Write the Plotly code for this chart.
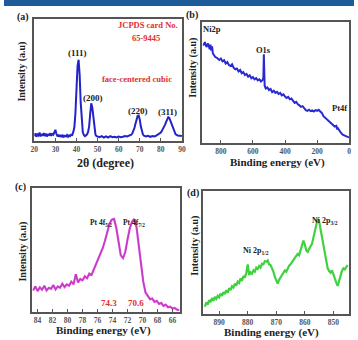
import plotly.graph_objects as go

# ---------------- data ----------------
# (a) XRD
tth = [20, 20.5, 21, 21.5, 22, 22.5, 23, 23.5, 24, 24.5, 25, 25.5, 26, 26.5, 27, 27.5, 28, 28.5, 29, 29.5,
       30, 30.5, 31, 31.5, 32, 32.5, 33, 33.5, 34, 34.5, 35, 35.5, 36, 36.5, 37, 37.5, 38, 38.5, 39, 39.5,
       40, 40.5, 41, 41.5, 42, 42.5, 43, 43.5, 44, 44.5, 45, 45.5, 46, 46.5, 47, 47.5, 48, 48.5, 49, 49.5,
       50, 51, 52, 53, 54, 55, 56, 57, 58, 59, 60, 61, 62, 63, 64, 65, 66, 66.5, 67, 67.5,
       68, 68.5, 69, 69.5, 70, 70.5, 71, 71.5, 72, 73, 74, 75, 76, 77, 78, 79, 80, 80.5, 81, 81.5,
       82, 82.5, 83, 83.5, 84, 84.5, 85, 85.5, 86, 86.5, 87, 88, 89, 90]
xrd = [14, 22, 12, 19, 16, 24, 13, 20, 15, 23, 14, 21, 13, 18, 17, 22, 15, 20, 18, 26,
       32, 20, 13, 18, 12, 17, 11, 16, 12, 15, 13, 17, 12, 16, 14, 18, 17, 26, 40, 80,
       150, 215, 233, 190, 110, 50, 25, 17, 14, 16, 19, 26, 42, 78, 108, 96, 62, 32, 18, 14,
       13, 11, 14, 10, 13, 10, 14, 11, 12, 10, 13, 11, 12, 14, 13, 15, 18, 22, 28, 38,
       50, 62, 72, 73, 62, 42, 27, 19, 15, 13, 15, 12, 14, 13, 16, 19, 24, 29, 34, 40,
       47, 55, 62, 68, 66, 58, 48, 38, 30, 24, 19, 16, 15, 14]
xrd_ticks = [20, 30, 40, 50, 60, 70, 80, 90]

# (b) XPS survey
be_survey = [910, 900, 890, 880, 870, 865, 860, 855, 850, 845, 835, 825, 810, 800, 790, 780, 770, 760,
             750, 740, 730, 720, 710, 700, 690, 680, 670, 660, 650, 640, 630, 620, 610, 600, 590, 580,
             570, 560, 550, 540, 535, 532, 530, 527, 520, 510, 500, 490, 480, 470, 460, 450, 440, 430,
             420, 410, 400, 390, 380, 370, 360, 350, 340, 330, 320, 310, 300, 290, 280, 270, 260, 250,
             240, 230, 220, 210, 200, 190, 180, 170, 160, 150, 140, 130, 120, 110, 100, 90, 80, 75,
             70, 60, 50, 40, 30, 20, 10, 0]
survey = [272, 282, 268, 278, 262, 275, 258, 270, 250, 246, 240, 238, 232, 236, 228, 231, 222, 226,
          218, 215, 220, 210, 206, 208, 200, 204, 195, 198, 190, 193, 185, 189, 181, 184, 178, 181,
          175, 178, 172, 176, 182, 248, 176, 160, 152, 155, 148, 151, 142, 146, 140, 143, 137, 140,
          133, 136, 130, 126, 129, 122, 124, 118, 112, 115, 108, 105, 101, 103, 96, 92, 90, 93,
          89, 91, 88, 92, 90, 93, 88, 84, 75, 71, 66, 62, 58, 55, 50, 46, 48, 38,
          41, 33, 28, 23, 20, 19, 17, 16]
survey_ticks = [800, 600, 400, 200, 0]

# (c) Pt 4f
be_pt = [84.6, 84.3, 84.0, 83.7, 83.4, 83.1, 82.8, 82.5, 82.2, 81.9, 81.6, 81.3, 81.0, 80.7, 80.4, 80.1,
         79.8, 79.5, 79.2, 78.9, 78.6, 78.3, 78.0, 77.7, 77.4, 77.1, 76.8, 76.5, 76.2, 75.9, 75.6, 75.3,
         75.0, 74.7, 74.4, 74.1, 73.8, 73.5, 73.2, 72.9, 72.6, 72.3, 72.0, 71.7, 71.4, 71.1, 70.8, 70.5,
         70.2, 69.9, 69.6, 69.3, 69.0, 68.7, 68.4, 68.1, 67.8, 67.5, 67.2, 66.9, 66.6, 66.3, 66.0, 65.7,
         65.4, 65.1]
pt = [64, 76, 62, 73, 66, 78, 64, 72, 69, 80, 67, 76, 72, 84, 74, 82,
      78, 90, 82, 112, 88, 98, 94, 106, 100, 114, 110, 126, 138, 156, 172, 190,
      212, 238, 262, 274, 276, 250, 205, 168, 160, 178, 215, 248, 268, 276, 252, 195,
      135, 90, 58, 46, 38, 40, 30, 33, 24, 27, 18, 22, 14, 16, 10, 12,
      7, 6]
pt_ticks = [84, 82, 80, 78, 76, 74, 72, 70, 68, 66]

# (d) Ni 2p
be_ni = [895.0, 894.5, 894.0, 893.5, 893.0, 892.5, 892.0, 891.5, 891.0, 890.5, 890.0, 889.5, 889.0,
         888.5, 888.0, 887.5, 887.0, 886.5, 886.0, 885.5, 885.0, 884.5, 884.0, 883.5, 883.0, 882.5,
         882.0, 881.5, 881.0, 880.5, 880.0, 879.5, 879.0, 878.5, 878.0, 877.5, 877.0, 876.5, 876.0,
         875.5, 875.0, 874.5, 874.0, 873.5, 873.0, 872.5, 872.0, 871.5, 871.0, 870.5, 870.0, 869.5,
         869.0, 868.5, 868.0, 867.5, 867.0, 866.5, 866.0, 865.5, 865.0, 864.5, 864.0, 863.5, 863.0,
         862.5, 862.0, 861.5, 861.0, 860.5, 860.0, 859.5, 859.0, 858.5, 858.0, 857.5, 857.0, 856.5,
         856.0, 855.5, 855.0, 854.5, 854.0, 853.5, 853.0, 852.5, 852.0, 851.5, 851.0, 850.5, 850.0,
         849.5, 849.0, 848.5, 848.0, 847.5, 847.0, 846.5, 846.0, 845.5, 845.0]
ni = [22, 35, 28, 42, 36, 48, 40, 52, 46, 55, 50, 62, 55,
      66, 60, 72, 64, 78, 72, 84, 80, 92, 86, 98, 94, 108,
      100, 115, 110, 124, 150, 118, 126, 122, 132, 128, 140, 136, 145,
      140, 152, 150, 160, 158, 162, 150, 148, 140, 128, 112, 100, 92,
      104, 112, 118, 125, 132, 128, 140, 146, 150, 158, 164, 170, 176,
      182, 178, 195, 205, 222, 210, 192, 188, 198, 205, 212, 230, 250,
      272, 288, 280, 255, 228, 205, 175, 150, 138, 130, 125, 132, 118,
      110, 95, 85, 100, 118, 130, 138, 135, 142, 148]
ni_ticks = [890, 880, 870, 860, 850]

# ---------------- figure ----------------
W, H = 358, 340
def px(x):
    return x / W
def py(y):
    return 1 - y / H

FONT = "Liberation Serif"
fig = go.Figure()

fig.add_trace(go.Scatter(x=tth, y=xrd, mode="lines", line=dict(color="#2323c8", width=2),
                         xaxis="x", yaxis="y", showlegend=False))
fig.add_trace(go.Scatter(x=be_survey, y=survey, mode="lines", line=dict(color="#2a2ad2", width=2),
                         xaxis="x2", yaxis="y2", showlegend=False))
fig.add_trace(go.Scatter(x=be_pt, y=pt, mode="lines", line=dict(color="#e046e0", width=2.2),
                         xaxis="x3", yaxis="y3", showlegend=False))
fig.add_trace(go.Scatter(x=be_pt, y=pt, mode="lines", line=dict(color="#8a3a8a", width=0.5),
                         xaxis="x3", yaxis="y3", showlegend=False))
fig.add_trace(go.Scatter(x=be_ni, y=ni, mode="lines", line=dict(color="#3ed23e", width=2.2),
                         xaxis="x4", yaxis="y4", showlegend=False))

tickfont = dict(family=FONT, size=7.5, color="#555555", weight="bold")
def xax(dom, anchor, rng, ticks):
    return dict(domain=dom, anchor=anchor, range=rng, tickvals=ticks, showline=True, mirror=True,
                linecolor="#555555", linewidth=1.5, ticks="inside", ticklen=3, tickcolor="#555555",
                showgrid=False, zeroline=False, tickfont=tickfont)
def yax(dom, anchor, rng):
    return dict(domain=dom, anchor=anchor, range=rng, showline=True, mirror=True,
                linecolor="#555555", linewidth=1.5, showticklabels=False, ticks="",
                showgrid=False, zeroline=False)

fig.update_layout(
    width=W, height=H, margin=dict(l=0, r=0, t=0, b=0),
    paper_bgcolor="white", plot_bgcolor="white",
    xaxis=xax([px(31), px(182)], "y", [20, 90], xrd_ticks),
    yaxis=yax([py(141), py(19)], "x", [0, 350]),
    xaxis2=xax([px(203), px(353)], "y2", [915, 0], survey_ticks),
    yaxis2=yax([py(143), py(22)], "x2", [0, 338]),
    xaxis3=xax([px(29), px(180)], "y3", [84.7, 65], pt_ticks),
    yaxis3=yax([py(312), py(188)], "x3", [0, 368]),
    xaxis4=xax([px(204), px(353)], "y4", [895.5, 844.5], ni_ticks),
    yaxis4=yax([py(314), py(191)], "x4", [0, 372]),
)

# header strip
fig.add_shape(type="rect", xref="paper", yref="paper", x0=0, x1=1, y0=py(6), y1=1,
              fillcolor="#1d5b99", line=dict(width=0))

anns = []
def pa(text, x, y, size=10, color="#222222", angle=0, bold=True):
    t = f"<b>{text}</b>" if bold else text
    anns.append(dict(text=t, x=px(x), y=py(y), xref="paper", yref="paper", showarrow=False,
                     xanchor="center", yanchor="middle", textangle=angle,
                     font=dict(family=FONT, size=size, color=color)))
def da(text, x, y, xr, yr, size=9, color="#222222"):
    anns.append(dict(text=f"<b>{text}</b>", x=x, y=y, xref=xr, yref=yr, showarrow=False,
                     xanchor="center", yanchor="middle",
                     font=dict(family=FONT, size=size, color=color)))

# panel letters
pa("(a)", 19, 17, 10)
pa("(b)", 192, 15, 10)
pa("(c)", 17, 187, 10)
pa("(d)", 193, 193, 10)

# axis titles
pa("Intensity (a.u)", 18, 72, 10, angle=-90)
pa("Intensity (a.u)", 193, 68, 10, angle=-90)
pa("Intensity (a.u)", 19, 252, 10, angle=-90)
pa("Intensity (a.u)", 195, 246, 10, angle=-90)
pa("2θ (degree)", 104, 163, 12)
pa("Binding energy (eV)", 280, 162, 11)
pa("Binding energy (eV)", 102, 330, 11)
pa("Binding energy (eV)", 274, 332, 11)

# (a) annotations
da("(111)", 40.6, 253, "x", "y", 9)
da("(200)", 47.8, 123, "x", "y", 9)
da("(220)", 69.2, 87, "x", "y", 9)
da("(311)", 83.0, 84, "x", "y", 9)
pa("JCPDS card No.", 147, 25, 8.5, color="#e03030")
pa("65-9445", 145, 38, 8.5, color="#e03030")
pa("face-centered cubic", 136, 79, 8.5, color="#e03030")

# (b) annotations
pa("Ni2p", 213, 29, 8.5)
pa("O1s", 265, 50, 8.5)
pa("Pt4f", 343, 108, 8.5)

# (c) annotations
pa("Pt 4f<sub>5/2</sub>", 99, 223, 7.5)
pa("Pt 4f<sub>7/2</sub>", 133, 223, 7.5)
pa("74.3", 107, 303, 9, color="#e03030")
pa("70.6", 135, 303, 9, color="#e03030")

# (d) annotations
pa("Ni 2p<sub>3/2</sub>", 328, 221, 8)
pa("Ni 2p<sub>1/2</sub>", 258, 251, 8)

fig.update_layout(annotations=anns)
fig.write_html("out.html", config={"displayModeBar": False},
               post_script="document.body.style.margin='0';document.body.style.overflow='hidden';")
